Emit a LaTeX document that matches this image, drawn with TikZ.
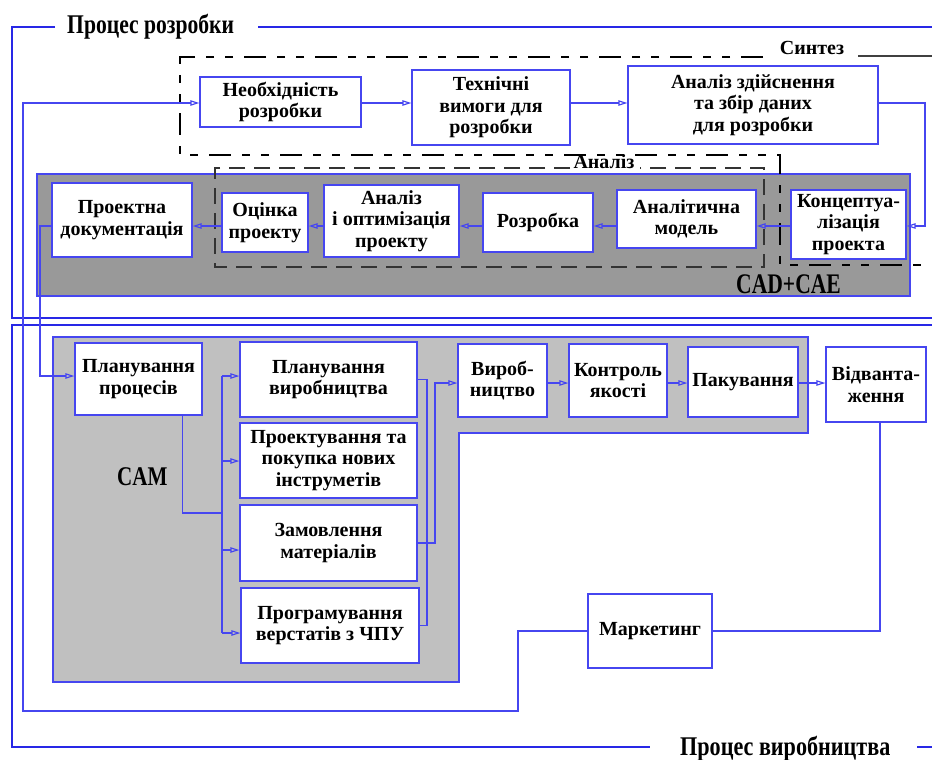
\documentclass[tikz,border=0pt]{standalone}
\usepackage{fontspec}
\setmainfont{Liberation Serif}
\usepackage{graphicx}
\usetikzlibrary{arrows.meta,calc}
\definecolor{frameblue}{RGB}{40,40,230}
\definecolor{boxblue}{RGB}{70,70,240}
\definecolor{cadgray}{RGB}{153,153,153}
\definecolor{camgray}{RGB}{192,192,192}
\tikzset{
  box/.style={draw=boxblue, line width=1.2pt, fill=white, align=center, inner sep=1pt,
    font=\fontsize{20}{21.5}\selectfont\bfseries},
  conn/.style={draw=boxblue, line width=1.2pt},
  arr/.style={conn, -{Triangle[open,length=9pt,width=5.5pt]}},
  frameline/.style={draw=frameblue, line width=1.3pt},
  bigtitle/.style={font=\fontsize{27}{30}\selectfont\bfseries, inner sep=0pt},
  synthline/.style={line width=1.2pt, dash pattern=on 22pt off 11pt on 8pt off 11pt on 8pt off 11pt},
  analline/.style={line width=1.2pt, black!80, dash pattern=on 16pt off 9pt},
  lbl/.style={font=\fontsize{20}{22}\selectfont\bfseries, inner sep=0pt},
}
\begin{document}
\begin{tikzpicture}[x=1pt,y=-1pt]
\useasboundingbox (0,0) rectangle (932,760);
\fill[white] (0,0) rectangle (932,760);
% grey regions
\filldraw[fill=cadgray, draw=boxblue, line width=1.2pt] (37,174) rectangle (910,296);
\filldraw[fill=camgray, draw=boxblue, line width=1.2pt] (53,337) -- (808,337) -- (808,433) -- (459,433) -- (459,682) -- (53,682) -- cycle;
\node[bigtitle, anchor=base west] (cadlbl) at (736,293) {\scalebox{0.8}[1.05]{CAD+CAE}};
\node[bigtitle, anchor=base west] (camlbl) at (117,485) {\scalebox{0.78}[1]{CAM}};
% outer frames
\draw[frameline] (55,27) -- (12,27) -- (12,318) -- (932,318);
\draw[frameline] (258,27) -- (932,27);
\node[bigtitle, anchor=base west] (t1) at (67,34) {\scalebox{0.8}[1]{Процес розробки}};
\draw[frameline] (932,325) -- (12,325) -- (12,747) -- (650,747);
\draw[frameline] (917,747) -- (932,747);
\node[bigtitle, anchor=base west] (t2) at (680,755) {\scalebox{0.82}[1]{Процес виробництва}};
% synthesis frame
\draw[synthline] (763,57) -- (180,57) -- (180,155) -- (780,155) -- (780,265) -- (932,265);
\draw[line width=1.2pt, black!75] (858,56) -- (932,56);
\node[lbl, anchor=base] (syn) at (812,55) {Синтез};
% analysis frame
\draw[analline] (570,168) -- (215,168) -- (215,267) -- (764,267) -- (764,168) -- (640,168);
\node[lbl, anchor=base] (anl) at (604,168) {Аналіз};
% boxes
\node[box, minimum width=161pt, minimum height=50pt] (nb) at (280.5,102) {Необхідність\\розробки};
\node[box, minimum width=158pt, minimum height=75pt] (tv) at (491,107.5) {Технічні\\вимоги для\\розробки};
\node[box, minimum width=250pt, minimum height=78pt] (az) at (753,105) {Аналіз здійснення\\та збір даних\\для розробки};
\node[box, minimum width=140pt, minimum height=74pt] (pd) at (122,220) {Проектна\\документація};
\node[box, minimum width=86pt, minimum height=59pt] (op) at (265,222.5) {Оцінка\\проекту};
\node[box, minimum width=135pt, minimum height=72pt] (ao) at (391.5,221) {Аналіз\\і оптимізація\\проекту};
\node[box, minimum width=110pt, minimum height=59pt] (rz) at (538,222.5) {Розробка};
\node[box, minimum width=139pt, minimum height=58pt] (am) at (686.5,219) {Аналітична\\модель};
\node[box, minimum width=115pt, minimum height=69pt] (kp) at (848.5,224.5) {Концептуа-\\лізація\\проекта};
\node[box, minimum width=127pt, minimum height=72pt] (pp) at (138.5,379) {Планування\\процесів};
\node[box, minimum width=177pt, minimum height=75pt] (pv) at (328.5,379.5) {Планування\\виробництва};
\node[box, minimum width=177pt, minimum height=75pt] (pi) at (328.5,460.5) {Проектування та\\покупка нових\\інструметів};
\node[box, minimum width=177pt, minimum height=76pt] (zm) at (328.5,543) {Замовлення\\матеріалів};
\node[box, minimum width=178pt, minimum height=75pt] (pc) at (330,625.5) {Програмування\\верстатів з ЧПУ};
\node[box, minimum width=89pt, minimum height=73pt] (vr) at (502.5,380.5) {Вироб-\\ництво};
\node[box, minimum width=98pt, minimum height=73pt] (kj) at (618,380.5) {Контроль\\якості};
\node[box, minimum width=110pt, minimum height=70pt] (pk) at (743,382) {Пакування};
\node[box, minimum width=100pt, minimum height=75pt] (vd) at (876,384.5) {Відванта-\\ження};
\node[box, minimum width=124pt, minimum height=74pt] (mk) at (650,631) {Маркетинг};
% helper coordinates
\coordinate (r1) at (0,103);
\coordinate (r2) at (0,226);
\coordinate (rv) at (0,383);
\coordinate (rpp) at (0,376);
\coordinate (rpi) at (0,461);
\coordinate (rzm) at (0,550);
\coordinate (rpc) at (0,633);
\coordinate (r513) at (0,513);
\coordinate (bus) at (222,0);
\coordinate (colA) at (427,0);
\coordinate (colB) at (435,0);
% synthesis connectors
\draw[arr] (nb.east |- r1) -- (tv.west |- r1);
\draw[arr] (tv.east |- r1) -- (az.west |- r1);
\draw[arr] (az.east |- r1) -- (925,103) -- (925,226) -- (kp.east |- r2);
% CAD row
\draw[arr] (kp.west |- r2) -- (am.east |- r2);
\draw[arr] (am.west |- r2) -- (rz.east |- r2);
\draw[arr] (rz.west |- r2) -- (ao.east |- r2);
\draw[arr] (ao.west |- r2) -- (op.east |- r2);
\draw[arr] (op.west |- r2) -- (pd.east |- r2);
% to CAM
\draw[arr] (pd.west |- r2) -- (40,226) -- (40,376) -- (pp.west |- rpp);
\draw[conn] ($(pp.south east)+(-20,0)$) |- (bus |- r513);
\draw[conn] (bus |- rpp) -- (bus |- rpc);
\draw[arr] (bus |- rpp) -- (pv.west |- rpp);
\draw[arr] (bus |- rpi) -- (pi.west |- rpi);
\draw[arr] (bus |- rzm) -- (zm.west |- rzm);
\draw[arr] (bus |- rpc) -- (pc.west |- rpc);
\draw[conn] (pv.east) -- (colA |- pv.east) -- (colA |- pc.east) -- (pc.east);
\draw[arr] (zm.east) -- (colB |- zm.east) -- (colB |- rv) -- (vr.west |- rv);
% production row
\draw[arr] (vr.east |- rv) -- (kj.west |- rv);
\draw[arr] (kj.east |- rv) -- (pk.west |- rv);
\draw[arr] (pk.east |- rv) -- (vd.west |- rv);
\draw[conn] ([xshift=4pt]vd.south) |- (mk.east);
\draw[arr] (mk.west) -- (518,631) -- (518,711) -- (23,711) -- (23,103) -- (nb.west |- r1);
\end{tikzpicture}
\end{document}
